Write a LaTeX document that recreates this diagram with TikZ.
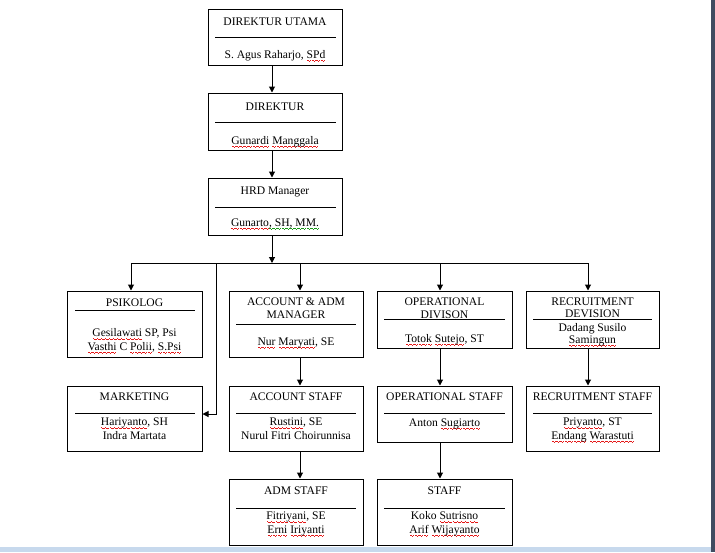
\documentclass[tikz,border=0pt]{standalone}
\usepackage{fontspec}
\setmainfont{Liberation Serif}
\usepackage{xcolor}
\usetikzlibrary{arrows.meta}

% Colours of the spell check marks and of the window frame
\definecolor{spellred}{rgb}{0.9, 0.1, 0.1}
\definecolor{grammargreen}{rgb}{0.1, 0.6, 0.1}
\definecolor{winbar}{rgb}{0.25, 0.30, 0.38}
\definecolor{winblue}{rgb}{0.78, 0.85, 0.93}

% Wavy marks under words
\newsavebox\spellbox
\newcommand\wavepiece{\vrule height -1.5pt depth 2.5pt width 1pt\vrule height -2.2pt depth 3.2pt width 1pt\vrule height -2.9pt depth 3.9pt width 1pt\vrule height -2.2pt depth 3.2pt width 1pt}
\newcommand\squiggle[2]{\sbox\spellbox{#2}\leavevmode\rlap{\textcolor{#1}{\hbox to \wd\spellbox{\xleaders\hbox{\wavepiece}\hfil}}}\usebox\spellbox}
\newcommand\spell[1]{\squiggle{spellred}{#1}}
\newcommand\gram[1]{\squiggle{grammargreen}{#1}}

\begin{document}
\begin{tikzpicture}[x=1pt, y=-1pt,
    orgbox/.style={draw, line width=1pt, inner sep=0pt},
    divider/.style={line width=1pt},
    boxtext/.style={inner sep=0pt, anchor=base, align=center, font=\fontsize{11.6}{13.5}\selectfont},
    tighttext/.style={boxtext, font=\fontsize{11.6}{12}\selectfont},
    arr/.style={-{Triangle[length=6pt, width=6pt]}, line width=1pt}]

    % Page and window frame
    \fill[white] (0,0) rectangle (715,552);
    \useasboundingbox (0,0) rectangle (715,552);
    \fill[winbar] (711,0) rectangle (715,552);
    \fill[winblue] (0,547) rectangle (711,552);

    % Top of the chart (two line texts are placed by their last line)
    \node[orgbox, minimum width=134pt, minimum height=56pt] (utama) at (275,37) {};
    \draw[divider] (215,37) -- (336,37);
    \node[boxtext] (utamatitle) at (275,25) {DIREKTUR UTAMA};
    \node[boxtext] (utamaname) at (275,58) {S. Agus Raharjo, \spell{SPd}};

    \node[orgbox, minimum width=134pt, minimum height=57pt] (direktur) at (275,121.5) {};
    \draw[divider] (215,122) -- (336,122);
    \node[boxtext] (direkturtitle) at (275,110) {DIREKTUR};
    \node[boxtext] (direkturname) at (275,144) {\spell{Gunardi} \spell{Manggala}};

    \node[orgbox, minimum width=134pt, minimum height=57pt] (hrd) at (275,206.5) {};
    \draw[divider] (215,207) -- (336,207);
    \node[boxtext] (hrdtitle) at (275,194) {HRD Manager};
    \node[boxtext] (hrdname) at (275,226) {\spell{Gunarto}\gram{, SH, MM.}};

    % First row
    \node[orgbox, minimum width=135pt, minimum height=66pt] (psikolog) at (134.5,324) {};
    \draw[divider] (75,310) -- (195,310);
    \node[boxtext] (psikologtitle) at (134.5,306) {PSIKOLOG};
    \node[boxtext] (psikologname) at (134.5,350) {\spell{Gesilawati} SP, Psi\\\spell{Vasthi} C \spell{Polii}, \spell{S.Psi}};

    \node[orgbox, minimum width=134pt, minimum height=66pt] (account) at (296,324) {};
    \draw[divider] (236,324) -- (356,324);
    \node[boxtext] (accounttitle) at (296,318.5) {ACCOUNT \& ADM\\MANAGER};
    \node[boxtext] (accountname) at (296,345) {\spell{Nur} \spell{Maryati}, SE};

    \node[orgbox, minimum width=135pt, minimum height=57pt] (opdiv) at (444.5,319.5) {};
    \draw[divider] (384,319) -- (505,319);
    \node[boxtext] (opdivtitle) at (444.5,318.5) {OPERATIONAL\\DIVISON};
    \node[boxtext] (opdivname) at (444.5,342) {\spell{Totok} \spell{Sutejo}, ST};

    \node[orgbox, minimum width=133pt, minimum height=57pt] (recdiv) at (592.5,319.5) {};
    \draw[divider] (533,319) -- (652,319);
    \node[tighttext] (recdivtitle) at (592.5,317.5) {RECRUITMENT\\DEVISION};
    \node[tighttext] (recdivname) at (592.5,343) {Dadang Susilo\\\spell{Samingun}};

    % Second row
    \node[orgbox, minimum width=135pt, minimum height=65pt] (marketing) at (134.5,418.5) {};
    \draw[divider] (75,413) -- (195,413);
    \node[boxtext] (marketingtitle) at (134.5,400) {MARKETING};
    \node[boxtext] (marketingname) at (134.5,439) {\spell{Hariyanto}, SH\\Indra Martata};

    \node[orgbox, minimum width=134pt, minimum height=65pt] (accstaff) at (296,418.5) {};
    \draw[divider] (236,413) -- (356,413);
    \node[boxtext] (accstafftitle) at (296,400) {ACCOUNT STAFF};
    \node[boxtext] (accstaffname) at (296,439) {\spell{Rustini}, SE\\Nurul Fitri Choirunnisa};

    \node[orgbox, minimum width=135pt, minimum height=56pt] (opstaff) at (444.5,414) {};
    \draw[divider] (384,413) -- (505,413);
    \node[boxtext] (opstafftitle) at (444.5,400) {OPERATIONAL STAFF};
    \node[boxtext] (opstaffname) at (444.5,426) {Anton \spell{Sugiarto}};

    \node[orgbox, minimum width=133pt, minimum height=65pt] (recstaff) at (592.5,418.5) {};
    \draw[divider] (533,413) -- (652,413);
    \node[boxtext] (recstafftitle) at (592.5,400) {RECRUITMENT STAFF};
    \node[boxtext] (recstaffname) at (592.5,439) {\spell{Priyanto}, ST\\\spell{Endang} \spell{Warastuti}};

    % Third row
    \node[orgbox, minimum width=134pt, minimum height=66pt] (admstaff) at (296,512) {};
    \draw[divider] (236,508) -- (356,508);
    \node[boxtext] (admstafftitle) at (296,494) {ADM STAFF};
    \node[boxtext] (admstaffname) at (296,533) {\spell{Fitriyani}, SE\\\spell{Erni} \spell{Iriyanti}};

    \node[orgbox, minimum width=135pt, minimum height=66pt] (staff) at (444.5,512) {};
    \draw[divider] (384,508) -- (505,508);
    \node[boxtext] (stafftitle) at (444.5,494) {STAFF};
    \node[boxtext] (staffname) at (444.5,533) {Koko \spell{Sutrisno}\\\spell{Arif} \spell{Wijayanto}};

    % Branch points of the bus line
    \coordinate (bus) at (272,263);
    \coordinate (jpsi) at (131,263);
    \coordinate (jmkt) at (216,263);
    \coordinate (kmkt) at (216,414);
    \coordinate (jacc) at (300,263);
    \coordinate (jop) at (440,263);
    \coordinate (jrec) at (588,263);

    % Arrows down the top of the chart
    \draw[arr] ([xshift=-3pt]utama.south) -- ([xshift=-3pt]direktur.north);
    \draw[arr] ([xshift=-3pt]direktur.south) -- ([xshift=-3pt]hrd.north);
    \draw[arr] ([xshift=-3pt]hrd.south) -- (bus);

    % Bus line and its branches
    \draw[divider] (jpsi) -- (jrec);
    \draw[arr] (jpsi) -- (jpsi |- psikolog.north);
    \draw[arr] (jacc) -- (jacc |- account.north);
    \draw[arr] (jop) -- (jop |- opdiv.north);
    \draw[arr] (jrec) -- (jrec |- recdiv.north);
    \draw[arr] (jmkt) -- (kmkt) -- (kmkt -| marketing.east);

    % Arrows inside the columns
    \draw[arr] (account.south -| jacc) -- (accstaff.north -| jacc);
    \draw[arr] (accstaff.south -| jacc) -- (admstaff.north -| jacc);
    \draw[arr] (opdiv.south -| jop) -- (opstaff.north -| jop);
    \draw[arr] (opstaff.south -| jop) -- (staff.north -| jop);
    \draw[arr] (recdiv.south -| jrec) -- (recstaff.north -| jrec);

\end{tikzpicture}
\end{document}
